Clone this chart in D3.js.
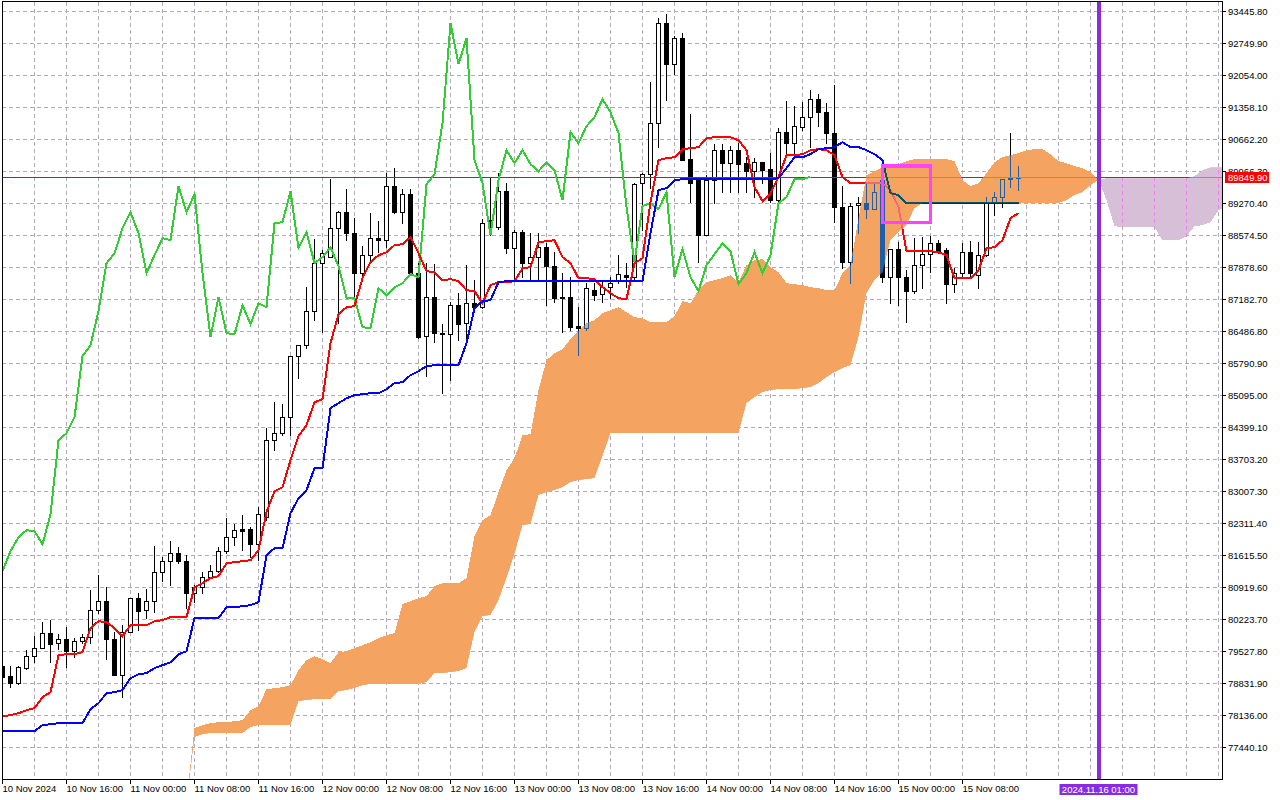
<!DOCTYPE html>
<html>
<head>
<meta charset="utf-8">
<title>BTCUSD H1 Ichimoku</title>
<script src="https://cdn.jsdelivr.net/npm/d3@7"></script>
<style>
  html, body { margin: 0; padding: 0; background: #fff; overflow: hidden; }
  svg { display: block; font-family: "Liberation Sans", Arial, sans-serif; }
</style>
</head>
<body>
<svg id="chart" width="1280" height="800"></svg>
<script>
// hourly candles, bar 0 = 10 Nov 2024 08:00
const open = [
  79208,78991,78838,79165,79426,79600,79926,79708,79795,79534,
  79752,79839,80426,80622,79795,79012,79948,80687,80426,80622,
  81252,81492,81666,81492,80796,80926,81144,81274,81709,82014,
  82187,82187,81861,82448,84123,84275,84623,85950,86189,86928,
  87972,88103,88733,89081,88625,87755,88146,88516,88472,89647,
  89081,89473,87755,86385,87233,86450,86428,87059,86667,87102,
  87015,88907,88755,89538,88298,88646,87972,88103,88320,87907,
  87233,87233,86602,86559,87385,87298,87450,87581,87711,87668,
  89712,89908,91017,93191,92300,92865,90234,89777,88581,89777,
  90430,90147,90430,90147,89973,90169,90016,89342,90821,90582,
  90930,91147,91539,91256,90799,89190,87994,89234,89277,89147,
  89777,87668,88277,87668,87363,87929,88168,88407,88255,87516,
  87755,88211,87711,88146,89277,89407,89821,89821
];
const high = [
  79295,79208,79208,79556,79861,80165,80209,79904,80056,79817,
  79904,80861,81187,80926,79948,80100,80687,80796,80883,81818,
  81579,81927,81796,81622,80970,81252,81405,81796,82427,82296,
  82492,82231,82666,84384,84949,84906,85950,86189,87450,88494,
  88255,89799,89103,89581,88951,88342,89060,88886,89929,90038,
  89581,89581,87972,87972,87950,86646,87124,87320,87929,87602,
  88929,89842,89929,89712,88690,88690,88625,88625,88407,88211,
  87755,87668,87015,87537,87537,87602,87668,88146,87972,89712,
  89929,91908,93300,93387,92909,92974,91212,89842,89886,90560,
  90560,90517,90582,90277,90256,90169,90364,90908,91495,91386,
  91473,91734,91647,91452,91843,89647,89277,89407,89712,89712,
  90038,88277,88429,87820,88516,88538,88559,88472,88298,87863,
  88407,88451,88429,89407,89516,89799,90799,90082
];
const low = [
  78904,78751,78817,79143,79295,79600,79295,79578,79186,79404,
  79708,79708,80361,79360,79012,78534,79948,79991,80252,80382,
  81057,80970,81448,80469,80600,80796,81122,81252,81666,81840,
  81731,81579,81513,82383,83905,84232,84232,85471,86124,86733,
  86472,88103,86667,88472,87233,87668,87972,88211,88320,89060,
  88842,87755,86341,85515,86254,85145,85428,86298,86189,86950,
  86994,88581,88712,88190,87602,87668,87602,87602,87059,87124,
  86472,86515,85971,86515,87167,87124,87211,87537,87450,87602,
  88690,89603,90495,91517,92082,90212,89299,87994,88581,89277,
  89516,89516,89516,89516,89407,89712,89299,89299,90364,90364,
  90865,90495,90952,90582,88864,87863,87537,88625,88951,89147,
  87559,87102,87059,86689,87320,87429,87776,88190,87102,87342,
  87668,87668,87429,88124,89016,89190,89625,89560
];
const close = [
  78969,78838,79186,79426,79600,79926,79687,79795,79534,79752,
  79839,80426,80622,79795,79012,79948,80687,80404,80622,81252,
  81492,81666,81492,80796,80926,81144,81274,81709,82014,82166,
  82144,81861,82514,84123,84275,84623,85950,86189,86928,87972,
  88190,88733,89081,88625,87755,88146,88516,88472,89647,89081,
  89473,87755,86363,87233,86450,86428,87059,86646,87102,87015,
  88842,88864,89538,88298,88646,87972,88103,88320,87907,87211,
  87211,86580,86559,87429,87276,87450,87537,87733,87668,89690,
  89908,91017,93191,92300,92865,90212,89712,88581,89777,90430,
  90147,90430,90125,89973,90169,89995,89342,90821,90582,90952,
  91147,91539,91256,90799,89190,87994,89212,89277,89147,89516,
  87668,88277,87668,87363,87929,88168,88407,88233,87516,87755,
  88211,87755,88146,89277,89407,89799,89799,89849.9
];

// Tenkan-sen (9) and Kijun-sen (26), one value per candle
const tenkan = [
  78121,78142,78186,78251,78295,78534,78643,79447,79469,79469,
  79513,80035,80187,80165,80035,79861,80100,80100,80100,80187,
  80209,80274,80274,80274,80926,81013,81122,81165,81448,81470,
  81492,81513,81731,82557,83014,83101,83688,84210,84449,84949,
  85015,86232,86863,87015,87037,87646,87994,88146,88211,88364,
  88385,88538,88190,87798,87776,87602,87624,87581,87385,87363,
  87102,87494,87559,87559,87581,87863,87885,88429,88451,88472,
  88103,87972,87646,87646,87624,87450,87320,87211,87189,87972,
  88081,89299,90212,90256,90277,90451,90473,90495,90691,90712,
  90712,90712,90647,90430,89625,89321,89494,89842,90321,90321,
  90343,90430,90451,90430,90321,89842,89712,89712,89712,89712,
  89712,89560,89190,88233,88233,88233,88233,88211,88146,87646,
  87646,87646,87820,88298,88320,88472,88951,89060
];
const kijun = [
  77795,77795,77795,77795,77795,77925,77947,77969,77969,77969,
  77969,78273,78404,78621,78643,78686,78947,79034,79056,79165,
  79230,79295,79469,79534,80252,80252,80252,80252,80491,80491,
  80513,80535,80600,81622,81774,81774,82535,82862,83036,83514,
  83514,84819,84928,85036,85102,85123,85145,85145,85232,85363,
  85384,85537,85624,85732,85754,85754,85754,85754,86232,86994,
  87146,87167,87559,87581,87581,87581,87581,87581,87581,87581,
  87581,87581,87581,87581,87581,87581,87581,87581,87581,87581,
  87581,88625,89560,89603,89777,89799,89799,89799,89799,89799,
  89799,89799,89799,89799,89799,89799,89799,89821,90038,90277,
  90277,90343,90451,90473,90495,90604,90495,90495,90430,90343,
  90212,89494,89451,89277,89277,89277,89277,89277,89277,89277,
  89277,89277,89277,89277,89277,89277,89277,89277
];

// Senkou spans, first value at bar 23, last one 26 bars after the last candle
const cloudStart = 23;
const spanA = [
  76294,
  77860,77925,77969,77990,77990,78012,78034,
  78251,78338,78708,78730,78751,78795,
  79121,79339,79426,79360,79273,
  79513,79534,79600,79665,79730,79817,79882,79926,
  80556,80622,80687,80730,80948,81013,81013,81013,81122,
  82035,82383,82492,82992,83471,83732,84232,84253,
  85210,85863,86015,86102,86319,86493,86667,86733,86885,
  86950,87015,86907,86798,86776,86689,86689,86689,86820,87146,87102,87385,87559,87602,87646,87711,87559,
  87929,88037,88059,87885,87776,87537,87516,87494,87450,87429,87385,87385,
  87755,87929,88951,89886,89973,90060,90082,90125,90190,90234,
  90234,90234,90234,90234,90190,
  89777,89647,89712,89929,90169,90277,90321,90364,90430,90451,90451,90343,90190,
  90147,90082,90038,89951,89799,
  89342,88777,88755,88755,88755,88755,88755,88472,88472,88472,88559,88777,88799,88864,89125,89190
];
const spanB = [
  76185,
  77664,77729,77751,77751,77751,77751,77751,
  77882,77925,77925,77925,77925,77925,
  78447,78469,78491,78491,78491,
  78664,78686,78730,78795,78817,78817,78817,78817,
  78817,78817,78817,78860,79056,79056,79078,79099,79165,
  79948,80295,80317,80643,81122,81644,82274,82296,
  82927,82992,83036,83101,83210,83253,83275,83297,83775,
  84275,84275,84275,84275,84275,84275,84275,84275,84275,84275,84275,84275,84275,84275,84275,84275,84275,
  84928,85058,85167,85210,85232,85232,85232,85254,85276,85363,85493,85602,
  85689,85754,86363,87320,87602,87776,88472,88646,88799,89168,
  89277,89277,89277,89277,89277,
  89277,89277,89277,89277,89277,89277,89277,89277,89277,89277,89277,89277,89277,
  89342,89451,89516,89668,89777,
  89821,89821,89821,89821,89821,89821,89821,89821,89821,89821,89821,89864,89995,90060,90060,90060
];

const priceTicks = [
  77440.10, 78136.00, 78831.90, 79527.80, 80223.70, 80919.60, 81615.50, 82311.40,
  83007.30, 83703.20, 84399.10, 85095.00, 85790.90, 86486.80, 87182.70, 87878.60,
  88574.50, 89270.40, 89966.30, 90662.20, 91358.10, 92054.00, 92749.90, 93445.80
];
// one label every 8 bars
const timeLabels = [
  "10 Nov 2024", "10 Nov 16:00", "11 Nov 00:00", "11 Nov 08:00",
  "11 Nov 16:00", "12 Nov 00:00", "12 Nov 08:00", "12 Nov 16:00",
  "13 Nov 00:00", "13 Nov 08:00", "13 Nov 16:00", "14 Nov 00:00",
  "14 Nov 08:00", "14 Nov 16:00", "15 Nov 00:00", "15 Nov 08:00"
];

const lastPrice = 89849.90;
const markerBar = 137;
const markerLabel = "2024.11.16 01:00";
// rectangle object drawn on the chart
const boxBars = [110, 116];
const boxPrices = [90088, 88857];

(function () {
    const svg = d3.select("#chart");
    const left = 2, top = 2, right = 1222, bottom = 779;

    const x = d3.scaleLinear().domain([0, 153]).range([2.5, 1226.5]);
    const y = d3.scaleLinear().domain([77440.1, 93445.8]).range([747.5, 11.5]);

    const bars = open.map((o, i) => ({ i, o, h: high[i], l: low[i], c: close[i] }));
    const cloud = spanA.map((a, k) => ({ i: k + cloudStart, a, b: spanB[k] }));

    // clip paths: plot area, above / below span B, inside the cloud
    const defs = svg.append("defs");
    defs.append("clipPath").attr("id", "plotClip").append("rect")
        .attr("x", left).attr("y", top)
        .attr("width", right - left).attr("height", bottom - top);
    defs.append("clipPath").attr("id", "aboveB").append("path")
        .attr("d", d3.area().x(d => x(d.i)).y0(0).y1(d => y(d.b))(cloud));
    defs.append("clipPath").attr("id", "belowB").append("path")
        .attr("d", d3.area().x(d => x(d.i)).y0(800).y1(d => y(d.b))(cloud));
    const between = d3.area().x(d => x(d.i)).y0(d => y(d.a)).y1(d => y(d.b));
    defs.append("clipPath").attr("id", "inCloud").append("path").attr("d", between(cloud));

    const plot = svg.append("g")
        .attr("clip-path", "url(#plotClip)")
        .attr("shape-rendering", "crispEdges");

    // grid
    const vBars = d3.range(4, 154, 4);
    const grid = plot.append("g")
        .attr("stroke", "#b3a9b9")
        .attr("stroke-dasharray", "4,3");
    grid.selectAll("line.h").data(priceTicks).join("line")
        .attr("class", "h")
        .attr("x1", left).attr("x2", right)
        .attr("y1", d => y(d)).attr("y2", d => y(d));
    grid.selectAll("line.v").data(vBars).join("line")
        .attr("class", "v")
        .attr("x1", d => x(d)).attr("x2", d => x(d))
        .attr("y1", top).attr("y2", bottom);

    // cloud: orange where span A is on top, thistle where span B is
    plot.append("path").attr("d", between(cloud))
        .attr("fill", "#f4a460").attr("clip-path", "url(#aboveB)");
    plot.append("path").attr("d", between(cloud))
        .attr("fill", "#d8bfd8").attr("clip-path", "url(#belowB)");
    plot.append("g").attr("clip-path", "url(#belowB)")
        .append("g").attr("clip-path", "url(#inCloud)")
        .attr("stroke", "#ee82ee").attr("stroke-dasharray", "4,3")
        .selectAll("line").data(vBars.filter(b => b > markerBar)).join("line")
        .attr("x1", d => x(d)).attr("x2", d => x(d))
        .attr("y1", top).attr("y2", bottom);

    // candles
    function drawCandles(g, ink, bullFill) {
        g.selectAll("line").data(bars).join("line")
            .attr("x1", d => x(d.i)).attr("x2", d => x(d.i))
            .attr("y1", d => Math.round(y(d.h))).attr("y2", d => Math.round(y(d.l)) + 1)
            .attr("stroke", ink);
        g.selectAll("rect").data(bars).join("rect")
            .attr("x", d => x(d.i) - 2)
            .attr("y", d => Math.round(y(Math.max(d.o, d.c))) + 0.5)
            .attr("width", 4)
            .attr("height", d => Math.max(1, Math.round(y(Math.min(d.o, d.c))) - Math.round(y(Math.max(d.o, d.c)))))
            .attr("fill", d => d.c < d.o ? ink : bullFill)
            .attr("stroke", ink);
    }
    drawCandles(plot.append("g"), "#000000", "#ffffff");
    drawCandles(plot.append("g").attr("clip-path", "url(#inCloud)"), "#1e5fa6", "#f4a460");

    // bid line
    const py = Math.round(y(lastPrice)) + 0.5;
    plot.append("line")
        .attr("x1", left).attr("x2", right).attr("y1", py).attr("y2", py)
        .attr("stroke", "#ff0000");

    // Ichimoku lines
    const line = d3.line().x((d, i) => x(i)).y(d => y(d));
    const chikou = close.slice(26);
    plot.append("path").attr("d", line(chikou))
        .attr("fill", "none").attr("stroke", "#32cd32").attr("stroke-width", 2);
    plot.append("path").attr("d", line(tenkan))
        .attr("fill", "none").attr("stroke", "#ff0000").attr("stroke-width", 2);
    plot.append("path").attr("d", line(kijun))
        .attr("fill", "none").attr("stroke", "#0000ff").attr("stroke-width", 2);

    // colours of lines where they cross the cloud
    const inside = plot.append("g").attr("clip-path", "url(#inCloud)");
    inside.append("line")
        .attr("x1", left).attr("x2", right).attr("y1", py).attr("y2", py)
        .attr("stroke", "#f2677e");
    inside.append("path").attr("d", line(tenkan))
        .attr("fill", "none").attr("stroke", "#f2677e").attr("stroke-width", 2);
    inside.append("path").attr("d", line(kijun))
        .attr("fill", "none").attr("stroke", "#0f5260").attr("stroke-width", 2);

    // objects
    plot.append("rect")
        .attr("x", x(boxBars[0])).attr("y", y(boxPrices[0]))
        .attr("width", x(boxBars[1]) - x(boxBars[0]))
        .attr("height", y(boxPrices[1]) - y(boxPrices[0]))
        .attr("fill", "none").attr("stroke", "#ff44ff").attr("stroke-width", 3.5);
    plot.append("line")
        .attr("x1", x(markerBar)).attr("x2", x(markerBar))
        .attr("y1", top).attr("y2", bottom)
        .attr("stroke", "#8a2be2").attr("stroke-width", 4);

    // frame
    svg.append("rect")
        .attr("x", 2.5).attr("y", 1.5).attr("width", 1220).attr("height", 778)
        .attr("fill", "none").attr("stroke", "#000").attr("shape-rendering", "crispEdges");

    // price axis
    const yAxis = svg.append("g").attr("font-size", "9.5px").attr("fill", "#000");
    yAxis.selectAll("line").data(priceTicks).join("line")
        .attr("x1", 1222).attr("x2", 1226)
        .attr("y1", d => y(d)).attr("y2", d => y(d))
        .attr("stroke", "#000").attr("shape-rendering", "crispEdges");
    yAxis.selectAll("text").data(priceTicks).join("text")
        .attr("x", 1228).attr("y", d => y(d)).attr("dy", "0.35em")
        .text(d => d.toFixed(2));

    svg.append("rect")
        .attr("x", 1225).attr("y", py - 5.5).attr("width", 44).attr("height", 11)
        .attr("fill", "#ff0000");
    svg.append("text")
        .attr("x", 1228).attr("y", py).attr("dy", "0.35em")
        .attr("font-size", "9.5px").attr("fill", "#fff")
        .text(lastPrice.toFixed(2));

    // time axis
    const xAxis = svg.append("g").attr("font-size", "9.5px").attr("fill", "#000");
    xAxis.selectAll("line").data(timeLabels).join("line")
        .attr("x1", (d, i) => x(i * 8)).attr("x2", (d, i) => x(i * 8))
        .attr("y1", 779).attr("y2", 784)
        .attr("stroke", "#000").attr("shape-rendering", "crispEdges");
    xAxis.selectAll("text").data(timeLabels).join("text")
        .attr("x", (d, i) => x(i * 8)).attr("y", 792)
        .text(d => d);

    svg.append("rect")
        .attr("x", x(markerBar) - 39).attr("y", 784).attr("width", 78).attr("height", 11)
        .attr("fill", "#8a2be2");
    svg.append("text")
        .attr("x", x(markerBar)).attr("y", 792.5).attr("text-anchor", "middle")
        .attr("font-size", "9.5px").attr("fill", "#fff")
        .text(markerLabel);
})();
</script>
</body>
</html>
